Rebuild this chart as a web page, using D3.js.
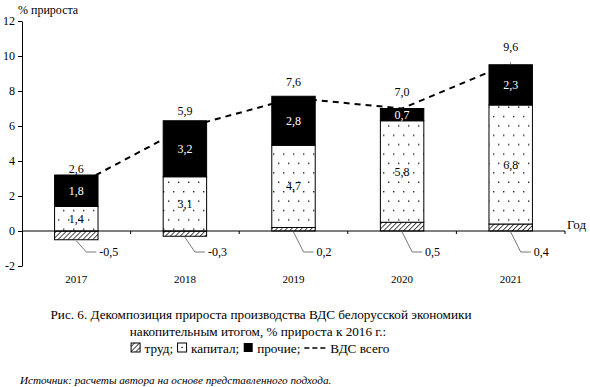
<!DOCTYPE html>
<html><head><meta charset="utf-8">
<script src="https://cdn.jsdelivr.net/npm/d3@7"></script>
<style>
body{margin:0;background:#fff;}
</style></head>
<body>
<svg id="c" width="590" height="387"></svg>
<script>
const years = ["2017","2018","2019","2020","2021"];
const labor = [-0.5, -0.3, 0.2, 0.5, 0.4];
const capital = [1.4, 3.1, 4.7, 5.8, 6.8];
const other = [1.8, 3.2, 2.8, 0.7, 2.3];
const total = [2.6, 5.9, 7.6, 7.0, 9.6];
const yTicks = [-2, 0, 2, 4, 6, 8, 10, 12];
const legendLabels = ["труд;", "капитал;", "прочие;", "ВДС всего"];

const FF = "'Liberation Serif','Times New Roman',serif";
const fmt = v => String(v.toFixed(1)).replace(".", ",");
const svg = d3.select("#c").attr("font-family", FF);
const defs = svg.append("defs");
const hatch = defs.append("pattern").attr("id","hatch").attr("patternUnits","userSpaceOnUse")
  .attr("width",3.5).attr("height",3.5).attr("patternTransform","rotate(45)");
hatch.append("rect").attr("width",3.5).attr("height",3.5).attr("fill","#fff");
hatch.append("line").attr("x1",0).attr("y1",0).attr("x2",0).attr("y2",3.5).attr("stroke","#000").attr("stroke-width",1.4);
const dots = defs.append("pattern").attr("id","dots").attr("patternUnits","userSpaceOnUse")
  .attr("width",10).attr("height",18.8);
dots.append("rect").attr("width",10).attr("height",18.8).attr("fill","#fff");
dots.append("rect").attr("x",3).attr("y",3).attr("width",1.4).attr("height",1.4).attr("fill","#222");
dots.append("rect").attr("x",8).attr("y",12.4).attr("width",1.4).attr("height",1.4).attr("fill","#222");

const x = d3.scaleBand().domain(years).range([22, 565]).paddingInner(0.6).paddingOuter(0.3);
const xb = d3.scaleBand().domain(years).range([22, 565]);
const y = d3.scaleLinear().domain([-2, 12]).range([266, 21]);
const cx = i => x(years[i]) + x.bandwidth()/2;

// dashed total line (behind bars)
svg.append("path")
  .attr("d", d3.line().x((d,i)=>cx(i)).y(d=>y(d))(total))
  .attr("fill","none").attr("stroke","#000").attr("stroke-width",2).attr("stroke-dasharray","6,5");

// bars
years.forEach((yr,i)=>{
  const bx = x(yr), bw = x.bandwidth();
  const l = labor[i];
  const base = Math.max(0, l);
  const c0 = base, c1 = base + capital[i];
  const o0 = c1, o1 = c1 + other[i];
  svg.append("rect").attr("x",bx).attr("width",bw)
    .attr("y", y(Math.max(0,l))).attr("height", Math.abs(y(l)-y(0)))
    .attr("fill","url(#hatch)").attr("stroke","#000").attr("stroke-width",1);
  svg.append("rect").attr("x",bx).attr("width",bw)
    .attr("y", y(c1)).attr("height", y(c0)-y(c1))
    .attr("fill","url(#dots)").attr("stroke","#000").attr("stroke-width",1);
  svg.append("rect").attr("x",bx).attr("width",bw)
    .attr("y", y(o1)).attr("height", y(o0)-y(o1))
    .attr("fill","#000").attr("stroke","#000").attr("stroke-width",1);
  svg.append("text").attr("x",bx+bw/2).attr("y",y((c0+c1)/2)+4).attr("text-anchor","middle")
    .attr("font-size",12).attr("fill","#000").text(fmt(capital[i]));
  svg.append("text").attr("x",bx+bw/2).attr("y",y((o0+o1)/2)+4).attr("text-anchor","middle")
    .attr("font-size",12).attr("fill","#fff").text(fmt(other[i]));
  svg.append("text").attr("x",cx(i)).attr("y",y(total[i])-12.5).attr("text-anchor","middle")
    .attr("font-size",12).text(fmt(total[i]));
  // labor label with leader
  const ly = y(0) + 21;
  svg.append("path").attr("d", d3.line()([[cx(i), y(Math.min(0,l))+1],[cx(i)+10, ly],[cx(i)+20, ly]]))
    .attr("fill","none").attr("stroke","#777").attr("stroke-width",1);
  svg.append("text").attr("x",cx(i)+23).attr("y",ly+4).attr("font-size",12).text(fmt(l));
});

// x axis (zero line)
const xAxis = svg.append("g").attr("transform",`translate(0,${y(0)})`);
xAxis.append("line").attr("x1",22).attr("x2",565).attr("stroke","#000");
years.forEach((yr,i)=>{
  if(i>0) xAxis.append("line").attr("x1",xb(yr)).attr("x2",xb(yr)).attr("y1",0).attr("y2",3).attr("stroke","#000");
});
xAxis.append("line").attr("x1",565).attr("x2",565).attr("y1",0).attr("y2",3).attr("stroke","#000");
years.forEach((yr,i)=>{
  svg.append("text").attr("x",cx(i)).attr("y",283).attr("text-anchor","middle").attr("font-size",11).text(yr);
});
svg.append("text").attr("x",567).attr("y",229).attr("font-size",13).text("Год");

// y axis
const yAxis = svg.append("g").attr("transform","translate(22,0)")
  .call(d3.axisLeft(y).tickValues(yTicks).tickSize(4).tickSizeOuter(0).tickFormat(d=>d));
yAxis.attr("font-family", FF);
yAxis.select(".domain").attr("stroke","#000");
yAxis.selectAll("text").attr("font-size",12).attr("fill","#000").attr("x",-7);
svg.append("text").attr("x",18).attr("y",14).attr("font-size",12).text("% прироста");

// caption
const CS = 13.2;
const cap = svg.append("g").attr("font-size",CS).attr("text-anchor","middle");
cap.append("text").attr("x",261).attr("y",319).text("Рис. 6. Декомпозиция прироста производства ВДС белорусской экономики");
cap.append("text").attr("x",258).attr("y",336).text("накопительным итогом, % прироста к 2016 г.:");
// legend line, laid out sequentially
const lg = svg.append("g").attr("font-size",CS);
const items = [];
let cur = 0;
const ly0 = 353;
legendLabels.forEach((lab,k)=>{
  const g = lg.append("g").attr("transform",`translate(${cur},0)`);
  let sw;
  if(k===0){ sw=9; g.append("rect").attr("x",0.5).attr("y",ly0-10).attr("width",9).attr("height",9).attr("fill","url(#hatch)").attr("stroke","#000"); }
  else if(k===1){ sw=9; g.append("rect").attr("x",0.5).attr("y",ly0-10).attr("width",9).attr("height",9).attr("fill","#fff").attr("stroke","#000");
    g.append("rect").attr("x",4.3).attr("y",ly0-6.2).attr("width",1.3).attr("height",1.3).attr("fill","#000"); }
  else if(k===2){ sw=9; g.append("rect").attr("x",0.5).attr("y",ly0-10).attr("width",9).attr("height",9).attr("fill","#000"); }
  else { sw=21; g.append("line").attr("x1",0).attr("x2",21).attr("y1",ly0-5).attr("y2",ly0-5).attr("stroke","#000").attr("stroke-width",1.5).attr("stroke-dasharray","5,3"); }
  const t = g.append("text").attr("x",sw+5).attr("y",ly0).text(lab);
  cur += sw + 5 + t.node().getComputedTextLength() + 4;
});
const lw = cur - 4;
lg.attr("transform",`translate(${260 - lw/2},0)`);

svg.append("text").attr("x",20).attr("y",384).attr("font-size",11.2).attr("font-style","italic")
  .text("Источник: расчеты автора на основе представленного подхода.");
</script>
</body></html>
